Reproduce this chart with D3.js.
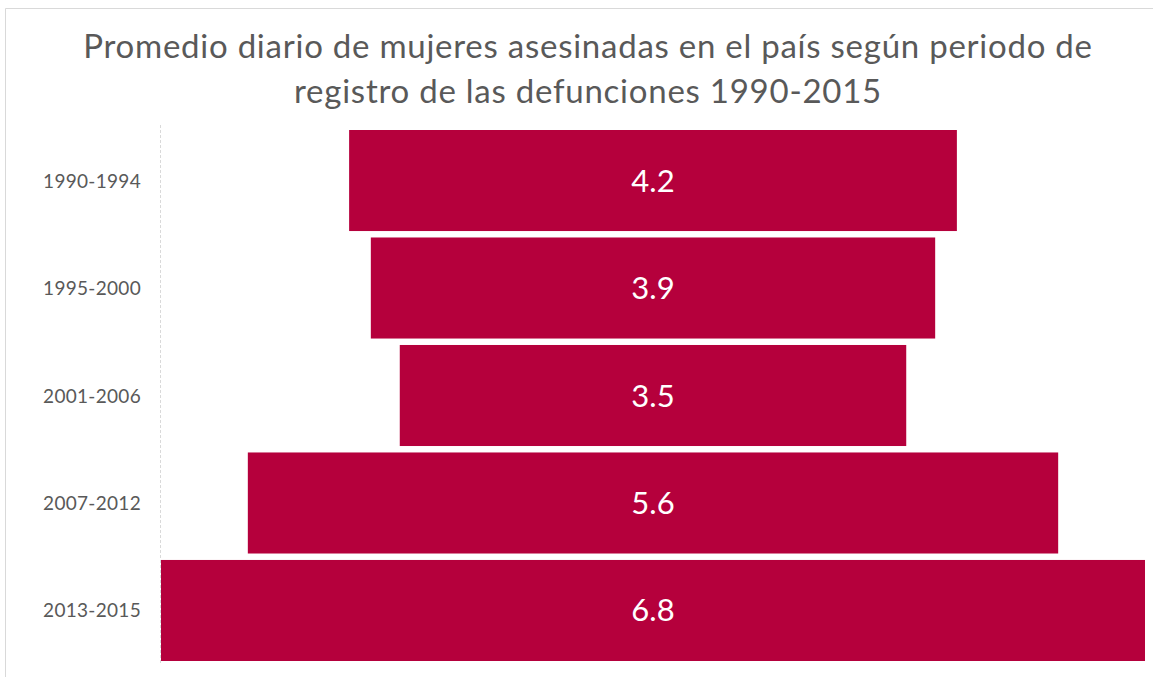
<!DOCTYPE html>
<html><head><meta charset="utf-8">
<script src="https://cdn.jsdelivr.net/npm/d3@7"></script>
<style>html,body{margin:0;padding:0;background:#fff;}</style>
</head><body>
<svg id="c" width="1153" height="677"></svg>
<script>
const categories = ["1990-1994","1995-2000","2001-2006","2007-2012","2013-2015"];
const values = [4.2, 3.9, 3.5, 5.6, 6.8];
const titleLines = ["Promedio diario de mujeres asesinadas en el país según periodo de","registro de las defunciones 1990-2015"];

const svg = d3.select("#c");
const font = "Lato, 'Open Sans', sans-serif";
// outer border
svg.append("path").attr("d","M5.5,677 L5.5,8.5 L1153,8.5").attr("fill","none").attr("stroke","#d9d9d9").attr("stroke-width",1);

svg.append("text").attr("x",588).attr("y",58).attr("text-anchor","middle")
  .attr("font-family",font).attr("font-size",33).attr("letter-spacing",0.75).attr("fill","#595959")
  .selectAll("tspan").data(titleLines).join("tspan")
  .attr("x",588).attr("dy",(d,i)=>i===0?0:45).text(d=>d);

const cx = 653;
const w = d3.scaleLinear().domain([0,6.8]).range([0,984]);
const y = d3.scaleBand().domain(categories).range([130,661]).paddingInner(0.06).paddingOuter(0);

svg.append("line").attr("x1",160.5).attr("x2",160.5).attr("y1",125).attr("y2",663)
  .attr("stroke","#d9d9d9").attr("stroke-width",1).attr("stroke-dasharray","3,2");

svg.selectAll("rect.bar").data(values).join("rect").attr("class","bar")
  .attr("x",d=>cx - w(d)/2).attr("width",d=>w(d))
  .attr("y",(d,i)=>y(categories[i])).attr("height",y.bandwidth())
  .attr("fill","#b5003c");

svg.selectAll("text.val").data(values).join("text").attr("class","val")
  .attr("x",cx).attr("y",(d,i)=>y(categories[i])+y.bandwidth()/2+11)
  .attr("text-anchor","middle").attr("font-family",font).attr("font-size",31)
  .attr("fill","#fff").text(d=>d.toFixed(1));

svg.selectAll("text.cat").data(categories).join("text").attr("class","cat")
  .attr("x",141).attr("y",d=>y(d)+y.bandwidth()/2+7)
  .attr("text-anchor","end").attr("font-family",font).attr("font-size",19).attr("letter-spacing",0.3)
  .attr("fill","#595959").text(d=>d);
</script>
</body></html>
